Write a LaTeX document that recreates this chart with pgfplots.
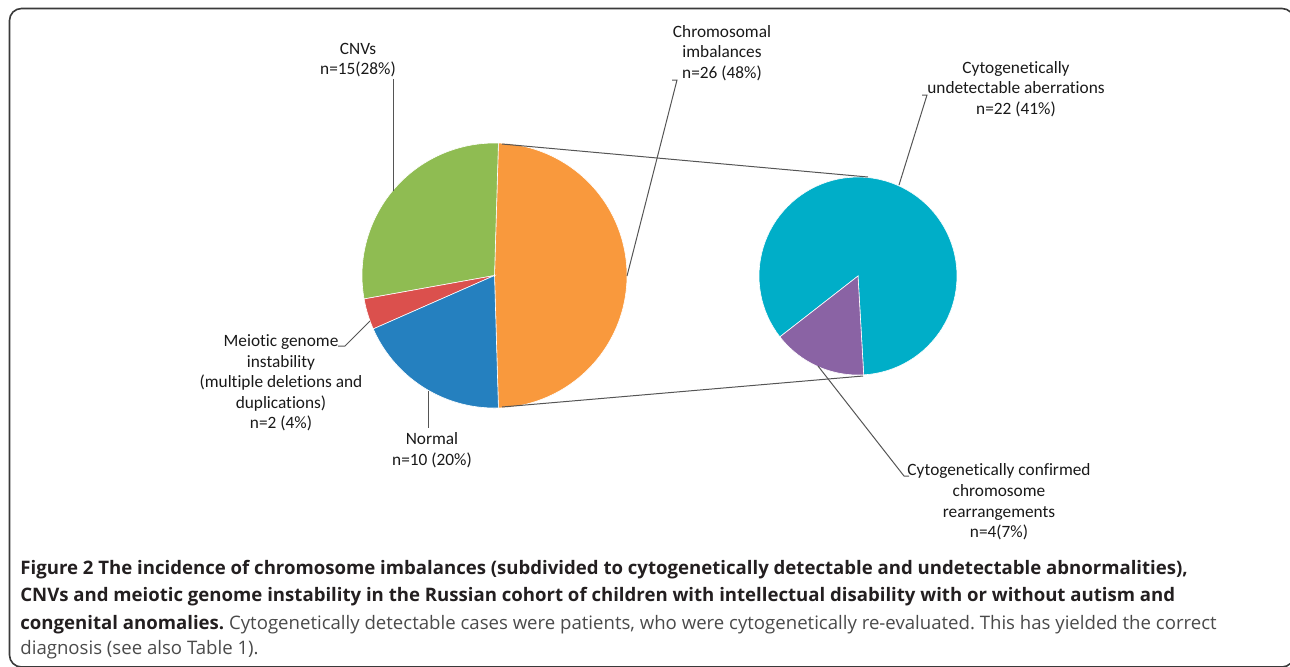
\documentclass[border=0pt]{standalone}
\usepackage{pgfplots}
\pgfplotsset{compat=1.18}
\usepackage{pgfplotstable}
\usepackage{fontspec}
\setmainfont{Carlito}[RawFeature={-liga}]
\newfontfamily\capfont{Open Sans}
\frenchspacing

% slice colours
\definecolor{chrorange}{HTML}{F9993D}
\definecolor{cnvgreen}{HTML}{8FBC52}
\definecolor{meired}{HTML}{DB504D}
\definecolor{norblue}{HTML}{2580BF}
\definecolor{undcyan}{HTML}{00AEC8}
\definecolor{conpurple}{HTML}{8A63A4}
\definecolor{leadcol}{HTML}{555555}
\definecolor{framecol}{HTML}{3A3A3A}
\definecolor{captxt}{HTML}{231F20}
\definecolor{capreg}{HTML}{4A4A4A}

% counts of patients
\pgfplotstableread{
group n
Chromosomal 26
CNVs 15
Meiotic 2
Normal 10
}\maintab
\pgfplotstableread{
group n
Undetectable 22
Confirmed 4
}\subtab

\pgfplotstablegetelem{0}{n}\of\maintab \let\nChr\pgfplotsretval
\pgfplotstablegetelem{1}{n}\of\maintab \let\nCNV\pgfplotsretval
\pgfplotstablegetelem{2}{n}\of\maintab \let\nMei\pgfplotsretval
\pgfplotstablegetelem{3}{n}\of\maintab \let\nNor\pgfplotsretval
\pgfplotstablegetelem{0}{n}\of\subtab \let\nUnd\pgfplotsretval
\pgfplotstablegetelem{1}{n}\of\subtab \let\nCon\pgfplotsretval

% angles, main pie (orange slice centred on the right)
\pgfmathsetmacro\tot{\nChr+\nCNV+\nMei+\nNor}
\pgfmathsetmacro\aA{-180*\nChr/\tot}
\pgfmathsetmacro\aB{180*\nChr/\tot}
\pgfmathsetmacro\aC{\aB+360*\nCNV/\tot}
\pgfmathsetmacro\aD{\aC+360*\nMei/\tot}
\pgfmathsetmacro\aE{\aD+360*\nNor/\tot}
% angles, secondary pie
\pgfmathsetmacro\sub{\nUnd+\nCon}
\pgfmathsetmacro\bA{-86.7}
\pgfmathsetmacro\bB{\bA+360*\nUnd/\sub}
\pgfmathsetmacro\bC{\bB+360*\nCon/\sub}

% #1 colour, #2 cx, #3 cy, #4 r, #5 start, #6 end (pixel units, y downwards)
\newcommand\slice[6]{%
  \addplot[fill=#1, draw=white, line width=0.3pt, domain=#5:#6, samples=90]
    ({#2+#4*cos(x)}, {#3-#4*sin(x)}) -- (axis cs:#2,#3) -- cycle;
}
\newcommand\lbl{\fontsize{8.65}{10.3}\selectfont\color{black!90}}
\newcommand\capb{\capfont\bfseries\fontsize{9.3}{12}\selectfont\color{captxt}}
\newcommand\capr{\capfont\mdseries\fontsize{9.3}{12}\selectfont\color{capreg}}

\begin{document}
\begin{tikzpicture}
\begin{axis}[
  width=645pt, height=333pt, scale only axis,
  xmin=0, xmax=1290, ymin=0, ymax=666, y dir=reverse,
  hide axis, clip=false,
  leader/.style={draw=leadcol, line width=0.5pt, mark=none},
]
  % main pie
  \slice{chrorange}{494.5}{275.5}{132.5}{\aA}{\aB}
  \slice{cnvgreen}{494.5}{275.5}{132.5}{\aB}{\aC}
  \slice{meired}{494.5}{275.5}{132.5}{\aC}{\aD}
  \slice{norblue}{494.5}{275.5}{132.5}{\aD}{\aE}
  % secondary pie
  \slice{undcyan}{858}{276}{99}{\bA}{\bB}
  \slice{conpurple}{858}{276}{99}{\bB}{\bC}

  % connectors between the pies
  \addplot[leader] coordinates {(502,144) (868,177)};
  \addplot[leader] coordinates {(502,407) (863,376)};

  % leader lines
  \addplot[leader] coordinates {(393,79) (393,190.5)};
  \addplot[leader] coordinates {(672,80) (677,80) (627,276)};
  \addplot[leader] coordinates {(922,95) (927,95) (899,185)};
  \addplot[leader] coordinates {(338,346) (345,346) (370,321)};
  \addplot[leader] coordinates {(428,391) (428,428)};
  \addplot[leader] coordinates {(818,366) (904,476) (909,476)};

  % data labels
  \node[font=\lbl, align=center] at (axis cs:358,60) {CNVs\\n=15(28\%)};
  \node[font=\lbl, align=center] at (axis cs:722,53) {Chromosomal\\imbalances\\n=26 (48\%)};
  \node[font=\lbl, align=center] at (axis cs:1016,89) {Cytogenetically\\undetectable aberrations\\n=22 (41\%)};
  \node[font=\lbl, align=center] at (axis cs:281,383) {Meiotic genome\\instability\\(multiple deletions and\\duplications)\\n=2 (4\%)};
  \node[font=\lbl, align=center] at (axis cs:432,450) {Normal\\n=10 (20\%)};
  \node[font=\lbl, align=center] at (axis cs:999,502) {Cytogenetically confirmed\\chromosome\\rearrangements\\n=4(7\%)};

  % caption
  \node[anchor=base west, inner sep=0pt, font=\capb] at (axis cs:20,574)
    {Figure 2 The incidence of chromosome imbalances (subdivided to cytogenetically detectable and undetectable abnormalities),};
  \node[anchor=base west, inner sep=0pt, font=\capb] at (axis cs:20,601.5)
    {CNVs and meiotic genome instability in the Russian cohort of children with intellectual disability with or without autism and};
  \node[anchor=base west, inner sep=0pt] at (axis cs:20,629)
    {\capb congenital anomalies.\ \capr Cytogenetically detectable cases were patients, who were cytogenetically re-evaluated. This has yielded the correct};
  \node[anchor=base west, inner sep=0pt, font=\capr] at (axis cs:20,654)
    {diagnosis (see also Table 1).};

  % figure frame, partly outside the page
  \draw[framecol, line width=0.8pt, rounded corners=6pt]
    (axis cs:9.5,8.5) rectangle (axis cs:1294,667);
\end{axis}
\pgfresetboundingbox
\useasboundingbox (0,0) rectangle (645pt,333pt);
\end{tikzpicture}
\end{document}
